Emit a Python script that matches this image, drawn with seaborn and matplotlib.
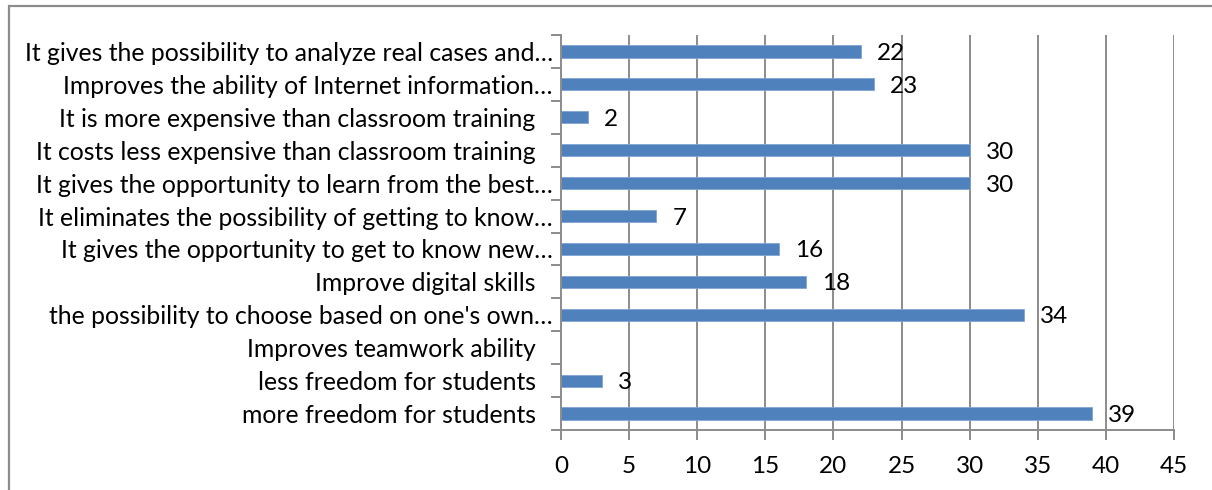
import numpy as np
import pandas as pd
import matplotlib
matplotlib.use("Agg")
import matplotlib.pyplot as plt
import matplotlib.transforms as mtransforms
from matplotlib.patches import Rectangle
import seaborn as sns

categories = [
    "It gives the possibility to analyze real cases and…",
    "Improves the ability of Internet information…",
    "It is more expensive than classroom training",
    "It costs less expensive than classroom training",
    "It gives the opportunity to learn from the best…",
    "It eliminates the possibility of getting to know…",
    "It gives the opportunity to get to know new…",
    "Improve digital skills",
    "the possibility to choose based on one's own…",
    "Improves teamwork ability",
    "less freedom for students",
    "more freedom for students",
]
values = [22, 23, 2, 30, 30, 7, 16, 18, 34, np.nan, 3, 39]
x_ticks = [0, 5, 10, 15, 20, 25, 30, 35, 40, 45]

sns.set_theme(style="white")
plt.rcParams["font.family"] = ["Lato", "DejaVu Sans"]

BAR = "#4F81BD"
GRID = "#8C8C8C"
FS_Y = 17.8
FS = 17.5

df = pd.DataFrame({"category": categories, "value": values})

W, H = 1212, 490
fig = plt.figure(figsize=(W / 100, H / 100), dpi=100)
ax = fig.add_axes([561 / W, 1 - 430 / H, (1174 - 561) / W, (430 - 35) / H])

sns.barplot(data=df, y="category", x="value", order=categories, orient="h",
            color=BAR, saturation=1, width=0.37, ax=ax, errorbar=None,
            edgecolor="#7FA4D3", linewidth=0.6)

ax.set_xlim(0, 45)
ax.set_ylim(len(categories) - 0.5, -0.5)
ax.set_xticks(x_ticks)
ax.set_xticklabels([str(t) for t in x_ticks], fontsize=FS, color="black")
ax.set_xlabel("")
ax.set_ylabel("")

ax.grid(axis="x", color=GRID, linewidth=1.4)
ax.set_axisbelow(True)
for s in ["top", "right"]:
    ax.spines[s].set_visible(False)
for s in ["left", "bottom"]:
    ax.spines[s].set_color(GRID)
    ax.spines[s].set_linewidth(1.4)

ax.tick_params(axis="x", which="major", length=7, width=1.4, color=GRID,
               direction="out", pad=12, bottom=True)
ax.set_yticks(range(len(categories)))
ax.set_yticklabels(categories, fontsize=FS_Y, color="black")
ax.tick_params(axis="y", which="major", length=0, pad=6, left=True)
ax.set_yticks(np.arange(-0.5, len(categories), 1.0), minor=True)
ax.tick_params(axis="y", which="minor", length=7, width=1.4, color=GRID,
               direction="out", left=True)

# labels without ellipsis sit further from the axis
for lab in ax.get_yticklabels():
    if not lab.get_text().endswith("…"):
        lab.set_transform(lab.get_transform() +
                          mtransforms.ScaledTranslation(-17 / 100, 0, fig.dpi_scale_trans))

for i, v in enumerate(values):
    if np.isnan(v):
        continue
    ax.annotate(f"{v:g}", xy=(v, i), xytext=(16, -2), textcoords="offset pixels",
                va="center", ha="left", fontsize=FS, color="black")

fig.patches.append(Rectangle((9 / W, -0.1), 1.2, 1.1 - 6 / H, transform=fig.transFigure,
                             fill=False, edgecolor=GRID, linewidth=1.6, clip_on=False))

fig.savefig("out.png", dpi=100, facecolor="white")
